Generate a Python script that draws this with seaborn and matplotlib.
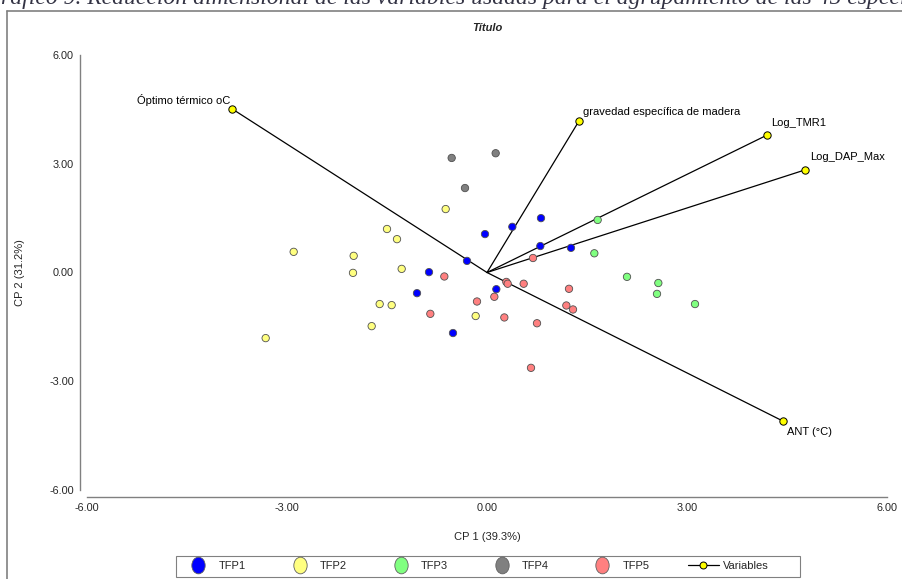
import numpy as np
import pandas as pd
import seaborn as sns
import matplotlib.pyplot as plt
from matplotlib.lines import Line2D
from matplotlib.patches import Rectangle
from matplotlib.path import Path
from matplotlib.ticker import FormatStrFormatter

# group scores (CP1, CP2)
tfp1_x = [-0.03, 0.38, 0.81, 0.80, 1.26, -0.30, -0.87, -1.05, 0.14, -0.51]
tfp1_y = [1.06, 1.26, 1.50, 0.73, 0.68, 0.32, 0.01, -0.57, -0.46, -1.67]
tfp2_x = [-2.90, -3.32, -2.00, -2.01, -1.50, -1.35, -1.28, -0.62, -1.61, -1.43, -1.73, -0.17]
tfp2_y = [0.57, -1.81, 0.46, -0.01, 1.20, 0.92, 0.10, 1.75, -0.87, -0.90, -1.48, -1.20]
tfp3_x = [1.66, 1.61, 2.10, 2.57, 2.55, 3.12]
tfp3_y = [1.45, 0.53, -0.12, -0.29, -0.59, -0.87]
tfp4_x = [-0.53, 0.13, -0.33]
tfp4_y = [3.16, 3.29, 2.33]
tfp5_x = [0.69, -0.64, 0.29, 0.31, 0.55, 1.23, 0.11, -0.15, -0.85, 0.26, 1.19, 1.29, 0.75, 0.66]
tfp5_y = [0.40, -0.11, -0.26, -0.31, -0.31, -0.45, -0.67, -0.80, -1.14, -1.24, -0.91, -1.02, -1.40, -2.63]

groups = ['TFP1', 'TFP2', 'TFP3', 'TFP4', 'TFP5']
group_colors = {'TFP1': '#0000FF', 'TFP2': '#FFFF80', 'TFP3': '#80FF80',
                'TFP4': '#808080', 'TFP5': '#FF8080'}

# variable loadings (vector tips)
var_names = ['Óptimo térmico oC', 'gravedad específica de madera', 'Log_TMR1', 'Log_DAP_Max', 'ANT (°C)']
var_x = [-3.82, 1.38, 4.20, 4.77, 4.44]
var_y = [4.51, 4.18, 3.79, 2.83, -4.10]

xs = [tfp1_x, tfp2_x, tfp3_x, tfp4_x, tfp5_x]
ys = [tfp1_y, tfp2_y, tfp3_y, tfp4_y, tfp5_y]
df = pd.concat([pd.DataFrame({'CP1': x, 'CP2': y, 'grupo': g}) for g, x, y in zip(groups, xs, ys)],
               ignore_index=True)

sns.set_style('white')
plt.rcParams['font.family'] = ['Liberation Sans', 'DejaVu Sans']

W, H = 903, 579
fig = plt.figure(figsize=(W / 100, H / 100), dpi=100)
ax = fig.add_axes([87 / W, 1 - 490 / H, 800 / W, 435 / H])

# vectors
for vx, vy in zip(var_x, var_y):
    ax.plot([0, vx], [0, vy], color='black', lw=0.9, zorder=2)

sns.scatterplot(data=df, x='CP1', y='CP2', hue='grupo', palette=group_colors,
                s=28, edgecolor='#505050', linewidth=0.6, legend=False, ax=ax, zorder=3)
ax.scatter(var_x, var_y, s=28, color='#FFFF00', edgecolor='black', linewidth=0.7, zorder=4)

offsets = [(-1.5, 6.5, 'right'), (3, 6.5, 'left'), (3, 8.5, 'left'),
           (3.5, 9.5, 'left'), (3, -7.5, 'left')]
for name, vx, vy, (dx, dy, ha) in zip(var_names, var_x, var_y, offsets):
    ax.annotate(name, (vx, vy), xytext=(dx, dy), textcoords='offset points',
                ha=ha, va='center', fontsize=8, color='black')

ax.set_xlim(-6, 6)
ax.set_ylim(-6, 6)
ax.set_xticks([-6, -3, 0, 3, 6])
ax.set_yticks([-6, -3, 0, 3, 6])
ax.xaxis.set_major_formatter(FormatStrFormatter('%.2f'))
ax.yaxis.set_major_formatter(FormatStrFormatter('%.2f'))
sns.despine(ax=ax, offset=5)
for sp in ['left', 'bottom']:
    ax.spines[sp].set_color('#808080')
    ax.spines[sp].set_linewidth(1.0)
ax.tick_params(length=3, width=0.8, color='#808080', labelsize=7.8, pad=1.5)

ax.set_xlabel('CP 1 (39.3%)', fontsize=8)
ax.set_ylabel('CP 2 (31.2%)', fontsize=8)
ax.xaxis.set_label_coords(0.5, -0.097)
ax.yaxis.set_label_coords(-0.078, 0.5)

fig.text(487 / W, 1 - 28 / H, 'Título', ha='center', va='center', fontsize=8,
         fontweight='bold', fontstyle='italic')

# cut-off caption and frame of the page
fig.text(-16 / W, 1 - 4 / H, 'Gráfico 9. Reducción dimensional de las variables usadas para el agrupamiento de las 45 especies',
         ha='left', va='baseline', fontsize=17, fontstyle='italic',
         family=['Liberation Serif', 'DejaVu Serif'], color='#333344')
fig.add_artist(Line2D([7 / W, 7 / W], [0, 1 - 11 / H], transform=fig.transFigure, color='#808080', lw=1.2))
fig.add_artist(Line2D([7 / W, 1], [1 - 11 / H, 1 - 11 / H], transform=fig.transFigure, color='#808080', lw=1.2))

# slightly tall ellipse for the legend swatches
circ = Path.unit_circle()
oval = Path(circ.vertices * np.array([0.8, 1.0]), circ.codes)

handles = [Line2D([], [], marker=oval, linestyle='', markersize=12, markerfacecolor=group_colors[g],
                  markeredgecolor='#606060', markeredgewidth=0.6) for g in groups]
handles.append(Line2D([], [], color='black', lw=0.9, marker='o', markersize=5,
                      markerfacecolor='#FFFF00', markeredgecolor='black', markeredgewidth=0.7))
fig.legend(handles, groups + ['Variables'], loc='center', bbox_to_anchor=(476 / W, 1 - 566 / H),
           ncol=6, frameon=False, handlelength=2.8, handletextpad=0.4, columnspacing=3.45,
           borderpad=0.3, borderaxespad=0, prop={'size': 8})
fig.add_artist(Rectangle((176 / W, 1 - 577 / H), 624 / W, 21 / H, transform=fig.transFigure,
                         fill=False, edgecolor='#808080', lw=0.8))

fig.savefig('out.png', dpi=100)
